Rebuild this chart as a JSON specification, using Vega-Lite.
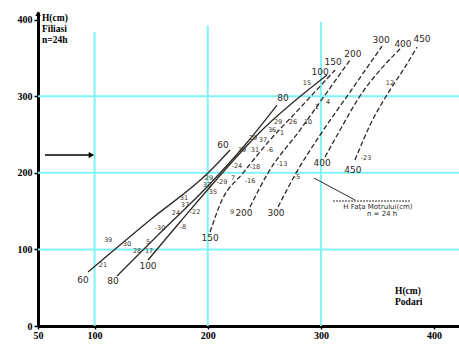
{
  "$schema": "https://vega.github.io/schema/vega-lite/v6.json",
  "width": 421,
  "height": 314,
  "autosize": {"type": "none"},
  "padding": {"left": 38, "top": 12, "right": 0, "bottom": 19},
  "background": "white",
  "config": {
    "view": {"stroke": null},
    "axis": {"grid": false, "domainColor": "black", "domainWidth": 3, "tickColor": "black", "tickWidth": 1.5,
      "labelFont": "Liberation Serif", "labelFontWeight": "bold", "labelFontSize": 10, "labelColor": "black", "labelFlush": false}
  },
  "datasets": {
    "gridv": [{"x": 100, "y": 0, "y2": 384}, {"x": 200, "y": 0, "y2": 392}, {"x": 300, "y": 0, "y2": 397}],
    "gridh": [{"y": 100, "x": 50, "x2": 422}, {"y": 200, "x": 50, "x2": 422}, {"y": 300, "x": 50, "x2": 422}],
    "curves": [
      {"curve": 60, "x": 94.2, "y": 70.5}, {"curve": 60, "x": 149, "y": 138.4}, {"curve": 60, "x": 200.2, "y": 199.7}, {"curve": 60, "x": 219.7, "y": 229.8},
      {"curve": 80, "x": 119.8, "y": 65.3}, {"curve": 80, "x": 157.8, "y": 121.4}, {"curve": 80, "x": 199.3, "y": 181.5}, {"curve": 80, "x": 232.9, "y": 236.3}, {"curve": 80, "x": 261.2, "y": 288.5},
      {"curve": 100, "x": 147.2, "y": 86.2}, {"curve": 100, "x": 175.5, "y": 135.8}, {"curve": 100, "x": 202, "y": 181.5}, {"curve": 100, "x": 246.2, "y": 253.3}, {"curve": 100, "x": 305.4, "y": 327.7},
      {"curve": 150, "x": 202, "y": 122.7}, {"curve": 150, "x": 212.6, "y": 164.5}, {"curve": 150, "x": 231.1, "y": 199.7}, {"curve": 150, "x": 255, "y": 242.8}, {"curve": 150, "x": 281.5, "y": 284.6}, {"curve": 150, "x": 312.4, "y": 334.2},
      {"curve": 200, "x": 237.3, "y": 155.4}, {"curve": 200, "x": 253.2, "y": 199.7}, {"curve": 200, "x": 281.5, "y": 255.9}, {"curve": 200, "x": 303.6, "y": 301.6}, {"curve": 200, "x": 325.7, "y": 347.3},
      {"curve": 300, "x": 262.1, "y": 155.4}, {"curve": 300, "x": 278, "y": 199.7}, {"curve": 300, "x": 299.2, "y": 249.3}, {"curve": 300, "x": 325.7, "y": 305.5}, {"curve": 300, "x": 354, "y": 365.5},
      {"curve": 400, "x": 303.6, "y": 220.6}, {"curve": 400, "x": 316.9, "y": 255.9}, {"curve": 400, "x": 334.5, "y": 300.3}, {"curve": 400, "x": 352.2, "y": 334.2}, {"curve": 400, "x": 369.9, "y": 361.6},
      {"curve": 450, "x": 330.1, "y": 216.7}, {"curve": 450, "x": 343.4, "y": 262.4}, {"curve": 450, "x": 361, "y": 308.1}, {"curve": 450, "x": 374.3, "y": 338.1}, {"curve": 450, "x": 384.9, "y": 364.2}
    ],
    "endlabels": [
      {"t": "60", "x": 89.8, "y": 60}, {"t": "80", "x": 116.3, "y": 58.7}, {"t": "100", "x": 147.2, "y": 78.3},
      {"t": "150", "x": 202, "y": 114.9}, {"t": "200", "x": 232, "y": 147.5}, {"t": "300", "x": 260.3, "y": 147.5},
      {"t": "400", "x": 301, "y": 212.8}, {"t": "450", "x": 328.3, "y": 203.7},
      {"t": "60", "x": 213.5, "y": 236.3}, {"t": "80", "x": 266.5, "y": 297.7}, {"t": "100", "x": 299.2, "y": 331.6},
      {"t": "150", "x": 310.7, "y": 344.6}, {"t": "200", "x": 328.3, "y": 355.1}, {"t": "300", "x": 353.1, "y": 373.4},
      {"t": "400", "x": 372.5, "y": 368.1}, {"t": "450", "x": 389.3, "y": 374.7}
    ],
    "smalllabels": [
      {"t": "9", "x": 221.4, "y": 148.8}, {"t": "39", "x": 111.9, "y": 112.3}, {"t": "21", "x": 107.4, "y": 79.6},
      {"t": "30", "x": 128.6, "y": 107}, {"t": "5", "x": 147.2, "y": 109.7}, {"t": "28", "x": 137.5, "y": 97.9},
      {"t": "17", "x": 148.1, "y": 97.9}, {"t": "-30", "x": 157.8, "y": 127.9}, {"t": "-8", "x": 178.1, "y": 129.2},
      {"t": "24", "x": 171.9, "y": 147.5}, {"t": "-22", "x": 188.7, "y": 148.8}, {"t": "31", "x": 179, "y": 167.1},
      {"t": "37", "x": 179.9, "y": 158}, {"t": "33", "x": 199.3, "y": 184.1}, {"t": "29", "x": 201.1, "y": 193.2},
      {"t": "-29", "x": 212.6, "y": 188}, {"t": "35", "x": 204.6, "y": 174.9}, {"t": "7", "x": 222.3, "y": 193.2},
      {"t": "-16", "x": 237.3, "y": 189.3}, {"t": "-24", "x": 225.8, "y": 208.9}, {"t": "-18", "x": 241.7, "y": 207.6},
      {"t": "-13", "x": 265.6, "y": 211.5}, {"t": "39", "x": 230.3, "y": 229.8}, {"t": "31", "x": 241.7, "y": 229.8},
      {"t": "-6", "x": 255, "y": 229.8}, {"t": "29", "x": 239.9, "y": 245.4}, {"t": "37", "x": 248.8, "y": 242.8},
      {"t": "1", "x": 265.6, "y": 252}, {"t": "36", "x": 256.8, "y": 255.9}, {"t": "29", "x": 262.1, "y": 266.3},
      {"t": "26", "x": 275.3, "y": 266.3}, {"t": "10", "x": 288.6, "y": 266.3}, {"t": "2", "x": 296.5, "y": 285.9},
      {"t": "4", "x": 306.3, "y": 292.4}, {"t": "15", "x": 287.7, "y": 317.2}, {"t": "12", "x": 361, "y": 317.2},
      {"t": "-23", "x": 339.8, "y": 219.3}, {"t": "-5", "x": 278.9, "y": 194.5}
    ],
    "titles": [
      {"t": "H(cm)", "x": 53.5, "y": 402}, {"t": "Filiasi", "x": 53.5, "y": 388}, {"t": "n=24h", "x": 53.5, "y": 374},
      {"t": "H(cm)", "x": 365.5, "y": 45.7}, {"t": "Podari", "x": 365.5, "y": 31.3}
    ],
    "note": [{"t": "H Fața Motrului(cm)", "x": 350.4, "y": 155.3}, {"t": "n = 24 h", "x": 354, "y": 146.2}],
    "pointer": [{"x": 293.9, "y": 193.2, "x2": 330.1, "y2": 164.5}],
    "noteline": [{"x": 310.7, "y": 163.2, "x2": 378.7, "y2": 163.2}],
    "arrow": [{"x": 56.2, "y": 223.2, "x2": 96.5, "y2": 223.2}],
    "arrowhead": [{"x": 97.2, "y": 223.2}],
    "yhead": [{"x": 50, "y": 408}]
  },
  "encoding": {
    "x": {"field": "x", "type": "quantitative", "title": null,
      "scale": {"domain": [50, 422], "nice": false, "zero": false},
      "axis": {"values": [50, 100, 200, 300, 400], "tickSize": 3, "labelPadding": 1}},
    "y": {"field": "y", "type": "quantitative", "title": null,
      "scale": {"domain": [0, 410], "nice": false, "zero": false},
      "axis": {"values": [0, 100, 200, 300, 400], "tickSize": 4, "labelPadding": 2}}
  },
  "layer": [
    {
      "data": {"name": "gridv"},
      "mark": {"type": "rule", "color": "#80f4f4", "strokeWidth": 2},
      "encoding": {"y2": {"field": "y2"}}
    },
    {
      "data": {"name": "gridh"},
      "mark": {"type": "rule", "color": "#80f4f4", "strokeWidth": 2},
      "encoding": {"x2": {"field": "x2"}}
    },
    {
      "data": {"name": "curves"},
      "transform": [{"filter": "datum.curve <= 100"}],
      "mark": {"type": "line", "color": "#2e2925", "strokeWidth": 1.3, "interpolate": "monotone"},
      "encoding": {"detail": {"field": "curve", "type": "nominal"}}
    },
    {
      "data": {"name": "curves"},
      "transform": [{"filter": "datum.curve > 100"}],
      "mark": {"type": "line", "color": "#2e2925", "strokeWidth": 1.3, "strokeDash": [5, 2.5], "interpolate": "monotone"},
      "encoding": {"detail": {"field": "curve", "type": "nominal"}}
    },
    {
      "data": {"name": "endlabels"},
      "mark": {"type": "text", "font": "DejaVu Sans", "fontSize": 9, "color": "#2e2925"},
      "encoding": {"text": {"field": "t"}}
    },
    {
      "data": {"name": "smalllabels"},
      "mark": {"type": "text", "font": "DejaVu Sans", "fontSize": 6.5, "color": "#3a332c"},
      "encoding": {"text": {"field": "t"}}
    },
    {
      "data": {"name": "titles"},
      "mark": {"type": "text", "font": "Liberation Serif", "fontWeight": "bold", "fontSize": 9.5, "align": "left", "color": "black"},
      "encoding": {"text": {"field": "t"}}
    },
    {
      "data": {"name": "note"},
      "mark": {"type": "text", "font": "DejaVu Sans", "fontSize": 7, "color": "#2e2925"},
      "encoding": {"text": {"field": "t"}}
    },
    {
      "data": {"name": "pointer"},
      "mark": {"type": "rule", "color": "#2e2925", "strokeWidth": 1},
      "encoding": {"x2": {"field": "x2"}, "y2": {"field": "y2"}}
    },
    {
      "data": {"name": "noteline"},
      "mark": {"type": "rule", "color": "#2e2925", "strokeWidth": 1, "strokeDash": [2, 1]},
      "encoding": {"x2": {"field": "x2"}, "y2": {"field": "y2"}}
    },
    {
      "data": {"name": "arrow"},
      "mark": {"type": "rule", "color": "black", "strokeWidth": 1.5},
      "encoding": {"x2": {"field": "x2"}, "y2": {"field": "y2"}}
    },
    {
      "data": {"name": "arrowhead"},
      "mark": {"type": "point", "shape": "triangle-right", "filled": true, "color": "black", "size": 40, "opacity": 1}
    },
    {
      "data": {"name": "yhead"},
      "mark": {"type": "point", "shape": "triangle-up", "filled": true, "color": "black", "size": 30, "opacity": 1}
    }
  ]
}
